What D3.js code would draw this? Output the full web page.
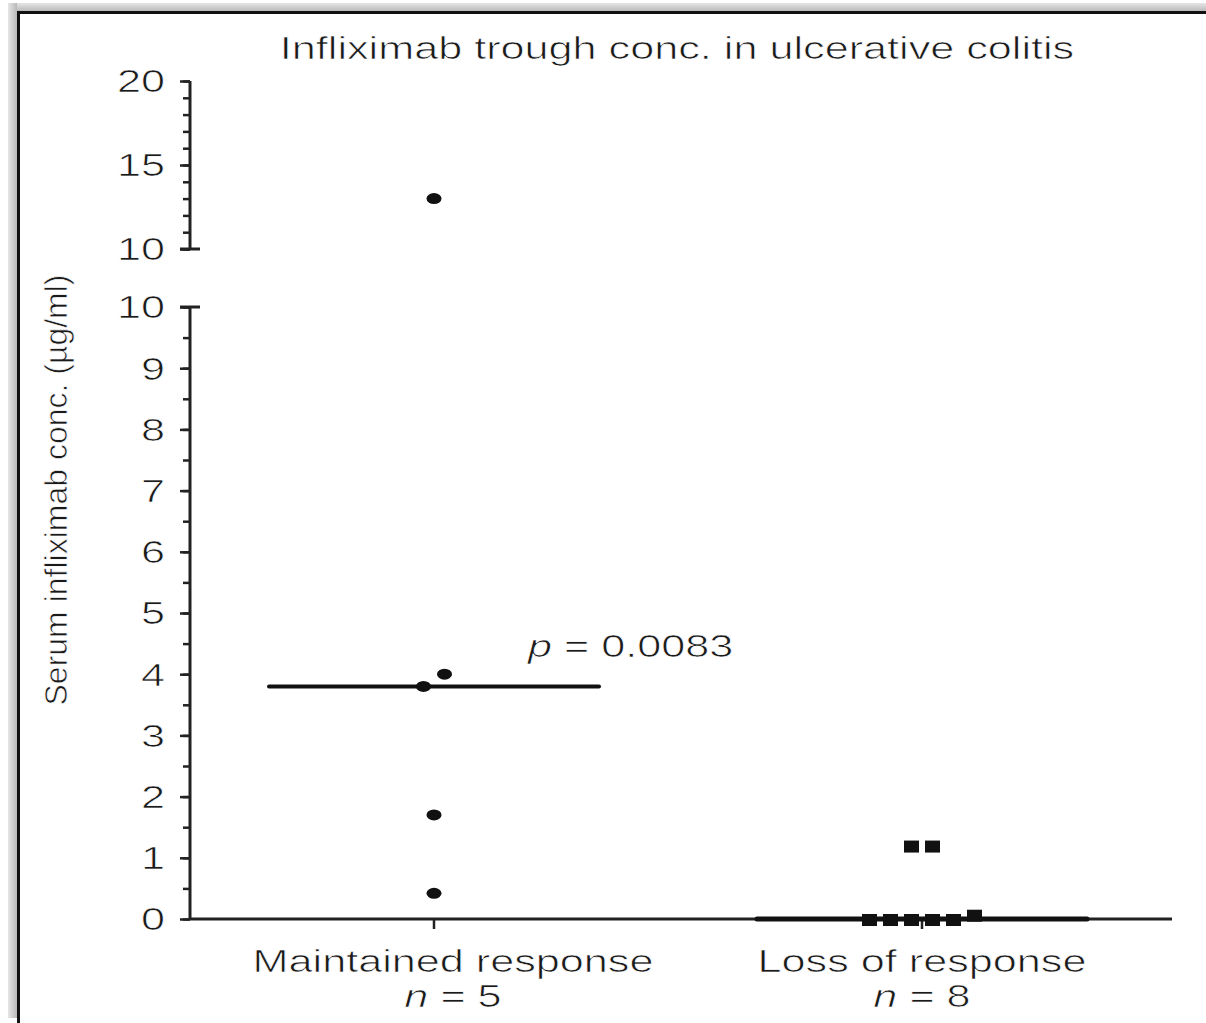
<!DOCTYPE html>
<html>
<head>
<meta charset="utf-8">
<script src="https://cdn.jsdelivr.net/npm/d3@7/dist/d3.min.js"></script>
<style>
  html, body { margin: 0; padding: 0; background: #fff; overflow: hidden; }
  svg { display: block; }
  text { font-family: "Liberation Sans", Arial, sans-serif; fill: #1a1a1a; stroke: #fff; stroke-width: 0.7px; }
</style>
</head>
<body>
<script>
// ---- data ----
const categories = ["Maintained response", "Loss of response"];
const groupN = [5, 8];
const maintained = [13.0, 4.0, 3.8, 1.7, 0.42];       // µg/ml, circles
const lossOfResponse = [1.2, 1.2, 0, 0, 0, 0, 0, 0.07]; // µg/ml, squares
const upperTicks = [10, 15, 20];
const lowerTicks = [0, 1, 2, 3, 4, 5, 6, 7, 8, 9, 10];
const pValueText = "0.0083";
const titleText = "Infliximab trough conc. in ulcerative colitis";
const yLabelText = "Serum infliximab conc. (µg/ml)";

// ---- layout ----
const W = 1206, H = 1023;
const FS = 32;      // font size
const SX = 1.35;    // horizontal stretch of the lettering
const axisX = 190;

const svg = d3.select("body").append("svg").attr("width", W).attr("height", H);

// window frame: grey bevel on top and left, dark rule inside it
const defs = svg.append("defs");
const gLeft = defs.append("linearGradient").attr("id", "frameL").attr("x1", 0).attr("x2", 1).attr("y1", 0).attr("y2", 0);
gLeft.append("stop").attr("offset", 0).attr("stop-color", "#e6e6e6");
gLeft.append("stop").attr("offset", 1).attr("stop-color", "#b8b8b8");
const gTop = defs.append("linearGradient").attr("id", "frameT").attr("x1", 0).attr("x2", 0).attr("y1", 0).attr("y2", 1);
gTop.append("stop").attr("offset", 0).attr("stop-color", "#e6e6e6");
gTop.append("stop").attr("offset", 1).attr("stop-color", "#b4b4b4");
svg.append("rect").attr("x", 8).attr("y", 3).attr("width", W - 8).attr("height", 9).attr("fill", "url(#frameT)");
svg.append("rect").attr("x", 8).attr("y", 3).attr("width", 9).attr("height", 1015).attr("fill", "url(#frameL)");
svg.append("path").attr("d", `M18.5,${H} V12.5 H${W}`)
  .attr("fill", "none").attr("stroke", "#111").attr("stroke-width", 3);

// ---- scales ----
const x = d3.scalePoint().domain(categories).range([axisX, 1166]).padding(0.5);
const yUpper = d3.scaleLinear().domain([10, 20]).range([249, 81]);
const yLower = d3.scaleLinear().domain([0, 10]).range([919, 307]);
const y = v => (v > 10 ? yUpper(v) : yLower(v));

function stretchedText(parent, tx, ty, anchor) {
  return parent.append("text")
    .attr("transform", `translate(${tx},${ty}) scale(${SX},1)`)
    .attr("text-anchor", anchor)
    .attr("font-size", FS);
}

// ---- y axis (broken) ----
function drawSegment(scale, majors, minorStep) {
  const [lo, hi] = scale.domain();
  const minors = d3.range(lo, hi + 1e-9, minorStep);
  const gMinor = svg.append("g").attr("transform", `translate(${axisX},0)`)
    .call(d3.axisLeft(scale).tickValues(minors).tickSize(7).tickSizeOuter(0).tickFormat(""));
  gMinor.select(".domain").remove();
  gMinor.selectAll("line").attr("stroke", "#222").attr("stroke-width", 2.5);

  const gMajor = svg.append("g").attr("transform", `translate(${axisX},0)`)
    .call(d3.axisLeft(scale).tickValues(majors).tickSize(10).tickSizeOuter(0).tickPadding(0).tickFormat(d3.format("d")));
  gMajor.select(".domain").remove();
  gMajor.selectAll("line").attr("stroke", "#222").attr("stroke-width", 2.5);
  gMajor.selectAll("text")
    .attr("x", null).attr("dy", null)
    .attr("transform", `translate(-25,0) scale(${SX},1)`)
    .attr("dominant-baseline", "central")
    .attr("font-size", FS)
    .attr("font-family", "Liberation Sans, Arial, sans-serif")
    .attr("fill", "#1a1a1a");

  const [r0, r1] = scale.range();
  svg.append("line").attr("x1", axisX).attr("x2", axisX).attr("y1", r0).attr("y2", r1)
    .attr("stroke", "#222").attr("stroke-width", 3);
}
drawSegment(yUpper, upperTicks, 1);
drawSegment(yLower, lowerTicks, 0.5);
// caps on either side of the break
[yUpper(10), yLower(10)].forEach(yy => {
  svg.append("line").attr("x1", axisX - 10).attr("x2", axisX + 10).attr("y1", yy).attr("y2", yy)
    .attr("stroke", "#222").attr("stroke-width", 3);
});

// ---- x axis ----
const xAxisEnd = 1172;
svg.append("line").attr("x1", axisX).attr("x2", xAxisEnd).attr("y1", yLower(0)).attr("y2", yLower(0))
  .attr("stroke", "#222").attr("stroke-width", 3);
categories.forEach(c => {
  svg.append("line").attr("x1", x(c)).attr("x2", x(c)).attr("y1", yLower(0)).attr("y2", yLower(0) + 10)
    .attr("stroke", "#222").attr("stroke-width", 2.5);
});

// category labels
categories.forEach((c, i) => {
  const cx = x(c) + (i === 0 ? 19 : 0);
  stretchedText(svg, cx, 972, "middle").text(c);
  const t = stretchedText(svg, cx, 1007, "middle");
  t.append("tspan").attr("font-style", "italic").text("n");
  t.append("tspan").text(" = " + groupN[i]);
});

// ---- medians ----
const groups = [maintained, lossOfResponse];
const halfLen = 165;
groups.forEach((vals, i) => {
  const m = d3.median(vals);
  const cx = x(categories[i]);
  svg.append("line").attr("x1", cx - halfLen).attr("x2", cx + halfLen)
    .attr("y1", y(m)).attr("y2", y(m))
    .attr("stroke", "#111").attr("stroke-width", i === 0 ? 4 : 5).attr("stroke-linecap", "round");
});

// side-by-side placement of points with nearly equal values
function dodge(values, cx, gap, tol) {
  const items = values.map(v => ({ v })).sort((a, b) => a.v - b.v);
  const clusters = [];
  items.forEach(it => {
    const last = clusters[clusters.length - 1];
    if (last && it.v - last[0].v <= tol) last.push(it); else clusters.push([it]);
  });
  clusters.forEach(cl => cl.forEach((it, j) => { it.x = cx + (j - (cl.length - 1) / 2) * gap; }));
  return items;
}

// circles
svg.append("g").selectAll("ellipse")
  .data(dodge(maintained, x(categories[0]), 21, 0.3))
  .join("ellipse")
  .attr("cx", d => d.x).attr("cy", d => y(d.v))
  .attr("rx", 7.5).attr("ry", 5.5)
  .attr("fill", "#111");

// squares
svg.append("g").selectAll("rect")
  .data(dodge(lossOfResponse, x(categories[1]), 21, 0.3))
  .join("rect")
  .attr("x", d => d.x - 7.5).attr("y", d => y(d.v) - 5)
  .attr("width", 15).attr("height", 12)
  .attr("fill", "#111");

// ---- annotations ----
const pt = stretchedText(svg, 528, 657, "start");
pt.append("tspan").attr("font-style", "italic").text("p");
pt.append("tspan").text(" = " + pValueText);

stretchedText(svg, 677, 59, "middle").text(titleText);

svg.append("text")
  .attr("transform", `translate(67,490) rotate(-90)`)
  .attr("text-anchor", "middle")
  .attr("font-size", FS)
  .text(yLabelText);
</script>
</body>
</html>
